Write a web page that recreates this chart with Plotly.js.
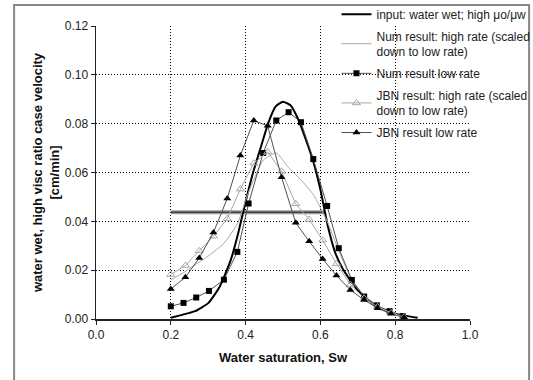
<!DOCTYPE html>
<html><head><meta charset="utf-8">
<script src="https://cdn.plot.ly/plotly-3.0.1.min.js"></script>
<style>html,body{margin:0;padding:0;background:#fff}</style>
</head><body>
<div id="chart" style="width:533px;height:380px"></div>
<script>
// Input curve (water wet; high viscosity ratio)
const inputX = [0.20,0.25,0.265,0.30,0.33,0.36,0.38,0.40,0.42,0.44,0.46,0.48,0.50,0.52,0.54,0.56,0.58,0.60,0.62,0.64,0.66,0.70,0.75,0.80,0.86];
const inputY = [0.0005,0.0025,0.0032,0.0065,0.013,0.024,0.035,0.048,0.060,0.070,0.080,0.087,0.089,0.0875,0.082,0.074,0.065,0.053,0.038,0.027,0.0205,0.0117,0.0052,0.0022,0.0005];

// Numerical results
const numX = [0.2,0.234,0.268,0.302,0.342,0.378,0.408,0.447,0.482,0.515,0.548,0.581,0.618,0.649,0.684,0.717,0.751,0.785,0.82];
const numHighY = [0.016,0.019,0.0225,0.026,0.031,0.039,0.052,0.065,0.068,0.062,0.057,0.051,0.040,0.028,0.016,0.0095,0.0055,0.0028,0.001];
const numLowY = [0.0052,0.0066,0.0088,0.0115,0.0161,0.0275,0.0473,0.068,0.0813,0.0847,0.0806,0.0655,0.0463,0.029,0.016,0.0092,0.0056,0.0032,0.0012];

// JBN results
const jbnX = [0.2,0.239,0.276,0.314,0.351,0.386,0.422,0.459,0.496,0.534,0.57,0.606,0.643,0.68,0.717,0.753,0.789,0.824];
const jbnHighY = [0.0182,0.0219,0.0279,0.0339,0.0411,0.0532,0.0638,0.0684,0.0605,0.0472,0.0408,0.0323,0.0227,0.0141,0.0085,0.005,0.0025,0.0008];
const jbnLowY = [0.0123,0.0171,0.025,0.0354,0.0494,0.067,0.0813,0.0791,0.0581,0.0394,0.0318,0.0246,0.0178,0.0119,0.0078,0.0044,0.0021,0.0006];

// Horizontal reference line
const hLineX = [0.2,0.612];
const hLineY = [0.0437,0.0437];

const traces = [
  {x:hLineX,y:hLineY,mode:'lines',line:{color:'#9a9a9a',width:4},showlegend:false,hoverinfo:'skip'},
  {x:hLineX,y:hLineY,mode:'lines',line:{color:'#444',width:1.5},showlegend:false,hoverinfo:'skip'},
  {x:inputX,y:inputY,mode:'lines',legendgroup:'a',name:'input: water wet; high μo/μw',line:{color:'#000',width:2,shape:'spline',smoothing:0.5}},
  {x:numX,y:numHighY,mode:'lines',legendgroup:'b',name:'Num result: high rate (scaled<br>down to low rate)',line:{color:'#a8a8a8',width:1,shape:'spline',smoothing:0.5}},
  {x:numX,y:numLowY,mode:'lines+markers',legendgroup:'c',name:'Num result low rate',line:{color:'#505050',width:1},marker:{symbol:'square',size:6,color:'#000'}},
  {x:jbnX,y:jbnHighY,mode:'lines+markers',legendgroup:'d',name:'JBN result: high rate (scaled<br>down to low rate)',line:{color:'#a8a8a8',width:1},marker:{symbol:'triangle-up-open',size:7,color:'#a8a8a8',line:{width:1}}},
  {x:jbnX,y:jbnLowY,mode:'lines+markers',legendgroup:'e',name:'JBN result low rate',line:{color:'#505050',width:1},marker:{symbol:'triangle-up',size:7,color:'#000'}}
];

const layout = {
  width:533,height:380,
  margin:{l:96,r:63,t:26,b:60.5,pad:0,autoexpand:false},
  paper_bgcolor:'#fff',plot_bgcolor:'#fff',
  font:{family:'Arial, Liberation Sans, sans-serif',size:12,color:'#222'},
  showlegend:true,
  legend:{x:0.643,y:1.09,xanchor:'left',yanchor:'top',bgcolor:'rgba(0,0,0,0)',font:{size:12,color:'#222'},tracegroupgap:3},
  xaxis:{range:[0,1],tickvals:[0,0.2,0.4,0.6,0.8,1.0],ticktext:['0.0','0.2','0.4','0.6','0.8','1.0'],
    showgrid:true,gridcolor:'#000',griddash:'1px,2px',gridwidth:1,zeroline:false,automargin:false,
    showline:true,linecolor:'#222',linewidth:1.5,ticks:'outside',ticklen:4,tickcolor:'#222',
    title:{text:'<b>Water saturation, Sw</b>',font:{size:13,color:'#111'},standoff:12}},
  yaxis:{range:[0,0.12],tickvals:[0,0.02,0.04,0.06,0.08,0.10,0.12],ticktext:['0.00','0.02','0.04','0.06','0.08','0.10','0.12'],
    showgrid:true,gridcolor:'#000',griddash:'1px,2px',gridwidth:1,zeroline:false,automargin:false,
    showline:true,linecolor:'#222',linewidth:1.5,ticks:'outside',ticklen:4,tickcolor:'#222',
    title:{text:'<b>water wet, high visc ratio case velocity<br>[cm/min]</b>',font:{size:13,color:'#111'},standoff:2}},
  shapes:[
    {type:'rect',xref:'paper',yref:'paper',x0:-0.219,x1:1.158,y0:-0.35,y1:1.0716,line:{color:'#888',width:2},fillcolor:'rgba(0,0,0,0)',layer:'below'}
  ]
};

Plotly.newPlot('chart',traces,layout,{displayModeBar:false,staticPlot:true});
</script>
</body></html>
